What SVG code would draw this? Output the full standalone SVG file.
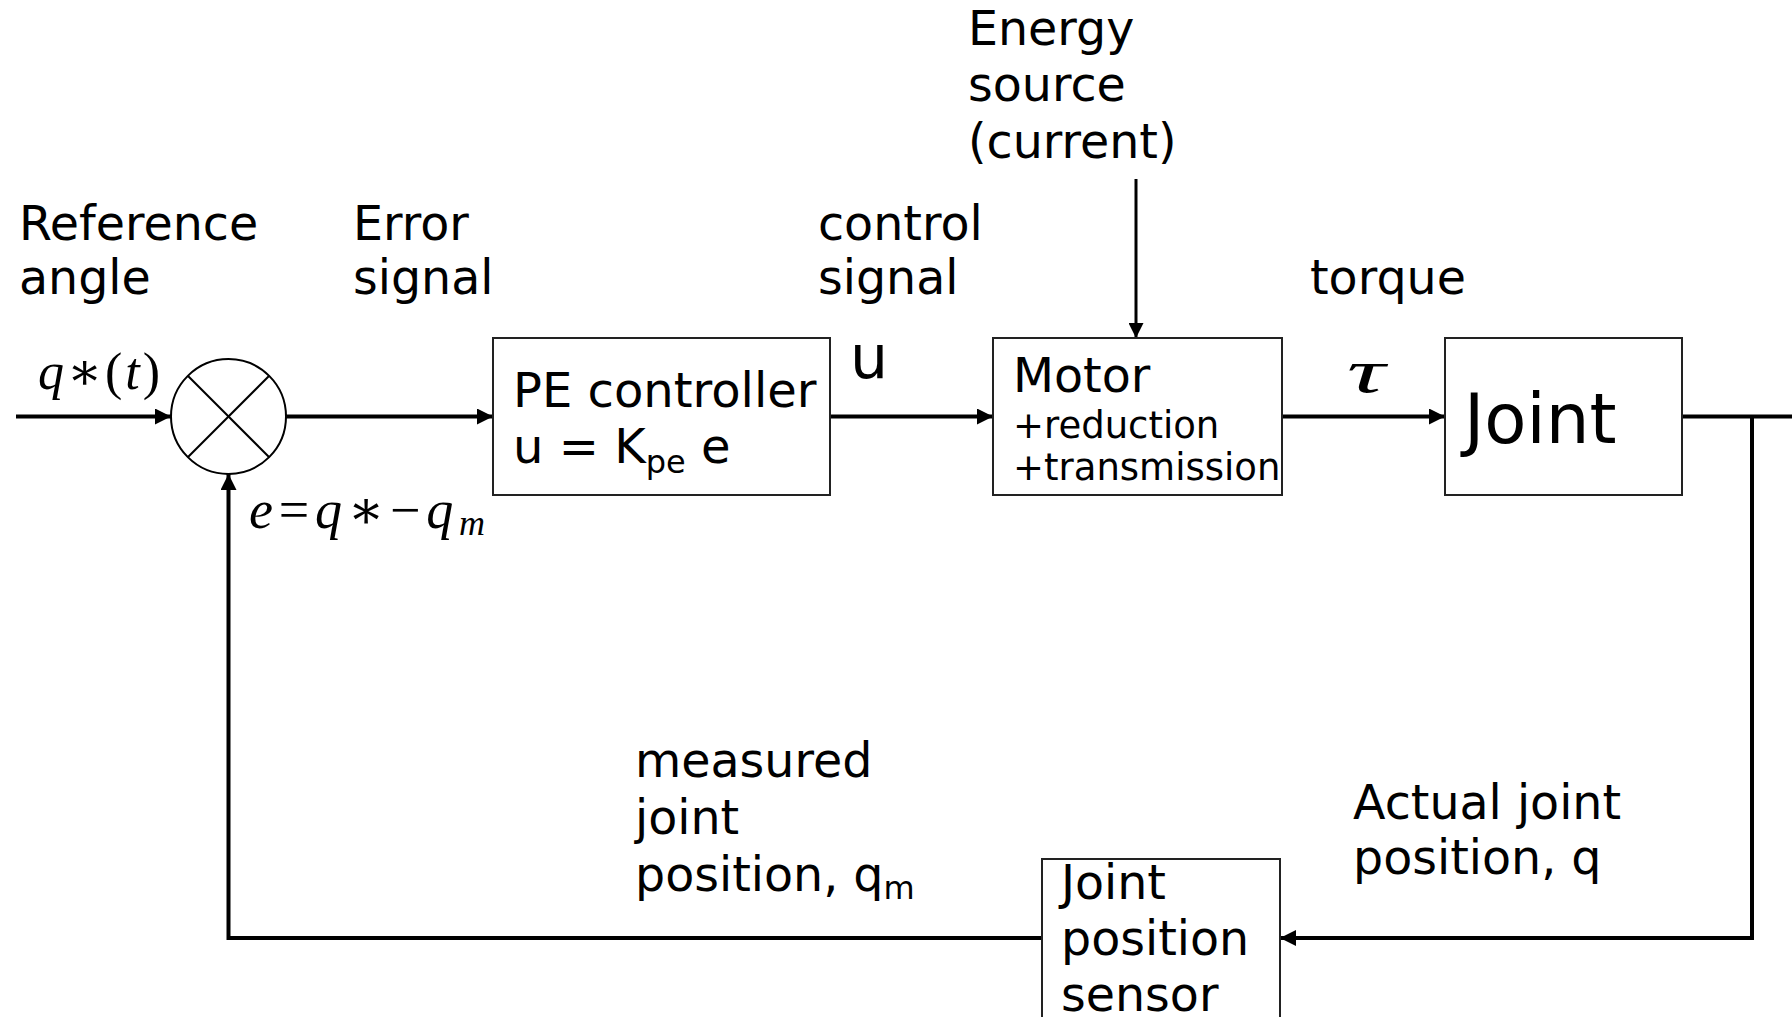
<svg xmlns="http://www.w3.org/2000/svg" width="1792" height="1017" viewBox="0 0 1792 1017">
<style>
.lbl{font-family:"DejaVu Sans","Liberation Sans",sans-serif;font-size:47.5px;fill:#000}
.box{fill:#fff;stroke:#222;stroke-width:2}
.math{font-family:"Liberation Serif","DejaVu Serif",serif;fill:#000}
.conn{fill:none;stroke:#000;stroke-width:4}
</style>
<defs>
<marker id="ah" viewBox="0 0 10 10" refX="10" refY="5" markerWidth="4" markerHeight="4" markerUnits="strokeWidth" orient="auto">
<path d="M0,0 L10,5 L0,10 z" fill="#000"/>
</marker>
<marker id="ah2" viewBox="0 0 10 10" refX="10" refY="5" markerWidth="5" markerHeight="5" markerUnits="strokeWidth" orient="auto">
<path d="M0,0 L10,5 L0,10 z" fill="#000"/>
</marker>
</defs>
<rect width="1792" height="1017" fill="#fff"/>

<g id="connectors">
<line class="conn" x1="16" y1="416.5" x2="171" y2="416.5" marker-end="url(#ah)"/>
<line class="conn" x1="286" y1="416.5" x2="493" y2="416.5" marker-end="url(#ah)"/>
<line class="conn" x1="830" y1="416.5" x2="993" y2="416.5" marker-end="url(#ah)"/>
<line class="conn" x1="1282" y1="416.5" x2="1445" y2="416.5" marker-end="url(#ah)"/>
<line class="conn" x1="1136" y1="179" x2="1136" y2="338" style="stroke-width:3" marker-end="url(#ah2)"/>
<polyline class="conn" points="1682,416.5 1792,416.5"/>
<polyline class="conn" points="1752,416.5 1752,938 1280,938" marker-end="url(#ah)"/>
<polyline class="conn" points="1042,938 228.5,938 228.5,474" marker-end="url(#ah)"/>
</g>

<g id="sum">
<circle cx="228.5" cy="416.5" r="57.5" fill="#fff" stroke="#000" stroke-width="2"/>
<line x1="187.8" y1="375.8" x2="269.2" y2="457.2" stroke="#000" stroke-width="2"/>
<line x1="269.2" y1="375.8" x2="187.8" y2="457.2" stroke="#000" stroke-width="2"/>
</g>

<g id="pe-controller">
<rect class="box" x="493" y="338" width="337" height="157"/>
<text class="lbl" x="513" y="407" style="font-size:48px">PE controller</text>
<text class="lbl" x="513" y="463" style="font-size:48px">u = K<tspan dy="10" style="font-size:32px">pe</tspan><tspan dy="-10"> e</tspan></text>
</g>

<g id="motor">
<rect class="box" x="993" y="338" width="289" height="157"/>
<text class="lbl" x="1013" y="392">Motor</text>
<text class="lbl" x="1013" y="438" style="font-size:37px">+reduction</text>
<text class="lbl" x="1013" y="480" style="font-size:37px">+transmission</text>
</g>

<g id="joint">
<rect class="box" x="1445" y="338" width="237" height="157"/>
<text class="lbl" x="1464" y="443" style="font-size:69px">Joint</text>
</g>

<g id="sensor">
<rect class="box" x="1042" y="859" width="238" height="170"/>
<text class="lbl" x="1061" y="899">Joint</text>
<text class="lbl" x="1061" y="955">position</text>
<text class="lbl" x="1061" y="1011">sensor</text>
</g>

<g id="labels">
<text class="lbl" x="19" y="240">Reference</text>
<text class="lbl" x="19" y="294">angle</text>
<text class="lbl" x="353" y="240">Error</text>
<text class="lbl" x="353" y="294">signal</text>
<text class="lbl" x="818" y="240">control</text>
<text class="lbl" x="818" y="294">signal</text>
<text class="lbl" x="968" y="45">Energy</text>
<text class="lbl" x="968" y="101">source</text>
<text class="lbl" x="968" y="158">(current)</text>
<text class="lbl" x="1310" y="294">torque</text>
<text class="lbl" x="850" y="378" style="font-size:60px">u</text>
<text class="lbl" x="635" y="777">measured</text>
<text class="lbl" x="635" y="834">joint</text>
<text class="lbl" x="635" y="891">position, q<tspan dy="8" style="font-size:32px">m</tspan></text>
<text class="lbl" x="1353" y="819">Actual joint</text>
<text class="lbl" x="1353" y="874">position, q</text>
<text class="math" x="38" y="389" style="font-size:52px" textLength="122" lengthAdjust="spacing"><tspan font-style="italic">q</tspan>∗(<tspan font-style="italic">t</tspan>)</text>
<text class="math" x="249" y="528" style="font-size:54px" textLength="236" lengthAdjust="spacing"><tspan font-style="italic">e</tspan>=<tspan font-style="italic">q</tspan>∗−<tspan font-style="italic">q</tspan><tspan font-style="italic" dy="7" style="font-size:36px">m</tspan></text>
<text class="math" x="1347" y="392" style="font-size:62px;font-style:italic" textLength="38" lengthAdjust="spacingAndGlyphs">τ</text>
</g>
</svg>
